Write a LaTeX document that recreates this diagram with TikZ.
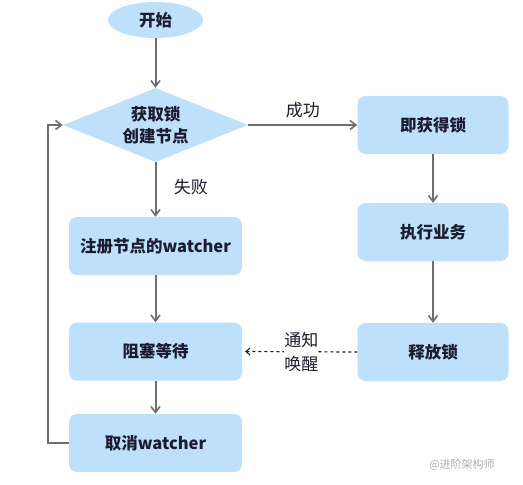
\documentclass[tikz,border=0pt]{standalone}
\usepackage{fontspec}
\setmainfont{Noto Sans CJK SC}
\usetikzlibrary{arrows.meta,shapes.geometric,calc}
\definecolor{boxblue}{HTML}{BFE0FA}
\definecolor{linegray}{HTML}{6E6E6E}
\definecolor{txt}{HTML}{1C1C30}
\tikzset{
  stepbox/.style={draw=none,fill=boxblue,rounded corners=8pt,minimum width=#1,minimum height=58pt,inner sep=0pt,font=\fontsize{16.5}{20}\selectfont\bfseries,text=txt},
  stepbox/.default=151pt,
  flow/.style={draw=linegray,line width=2pt,-{Straight Barb[length=6pt,width=9pt,line width=1.6pt]}},
  lbl/.style={font=\fontsize{17}{20}\selectfont,text=txt}
}
\begin{document}
\begin{tikzpicture}[x=1pt,y=-1pt]
\useasboundingbox (0,0) rectangle (523,485);
\node[ellipse,fill=boxblue,minimum width=95pt,minimum height=36pt,inner sep=0pt,font=\fontsize{16.5}{20}\selectfont\bfseries,text=txt] (start) at (155.5,20) {开始};
\node[diamond,fill=boxblue,aspect=2.5,minimum width=185pt,minimum height=74pt,inner sep=0pt,align=center,font=\fontsize{16.5}{22}\selectfont\bfseries,text=txt] (get) at (155.5,125) {获取锁\\创建节点};
\node[stepbox] (ok) at (433,125) {即获得锁};
\node[stepbox] (biz) at (433,232) {执行业务};
\node[stepbox] (rel) at (433,352) {释放锁};
\node[stepbox=173pt] (reg) at (155.5,246) {注册节点的watcher};
\node[stepbox=173pt] (wait) at (155.5,351.5) {阻塞等待};
\node[stepbox=173pt] (cancel) at (155.5,443) {取消watcher};
\node[stepbox=0pt,fill=none,font=\fontsize{11}{12}\selectfont,text=gray!65] (wm) at (462,465) {@进阶架构师};
\coordinate (loopb) at (48,443);
\coordinate (loopt) at (48,125);
\coordinate (waitin) at ($(wait.east)+(3,0)$);
\draw[flow] (start) -- (get);
\draw[flow] (get.east) -- node[lbl,above=3pt] {成功} (ok.west);
\draw[flow] (get.south) -- node[lbl,pos=0.45,right=14pt] {失败} (reg.north);
\draw[flow] (ok) -- (biz);
\draw[flow] (biz) -- (rel);
\draw[flow] (reg) -- (wait);
\draw[flow] (wait) -- (cancel);
\draw[flow] (cancel.west) -- (loopb) -- (loopt) -- (get.west);
\draw[draw=txt,line width=1.2pt,dashed,-{Straight Barb[length=4pt,width=7pt,line width=1pt]}] (rel.west) -- node[lbl,fill=white,inner sep=0pt,align=center,font=\fontsize{17}{24}\selectfont] {通知\\唤醒} (waitin);
\end{tikzpicture}
\end{document}
